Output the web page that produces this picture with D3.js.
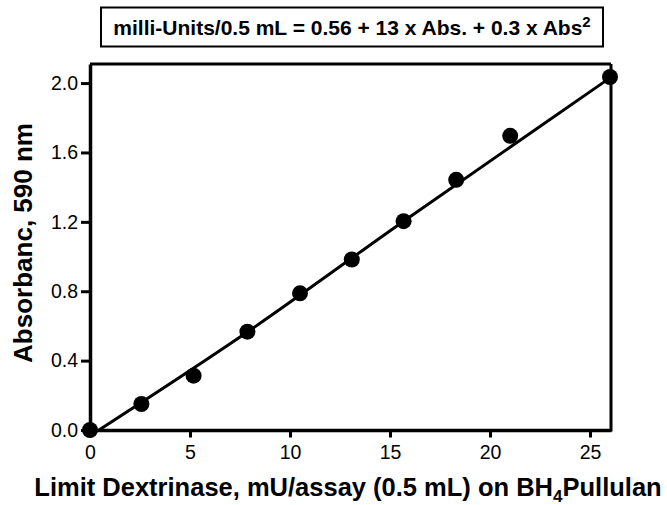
<!DOCTYPE html>
<html>
<head>
<meta charset="utf-8">
<script src="https://cdn.jsdelivr.net/npm/d3@7"></script>
<style>
    body { margin: 0; background: #fff; }
    #js_chart { width: 667px; height: 505px; }
    text { font-family: "Liberation Sans", Arial, sans-serif; fill: #000; }
</style>
</head>
<body>
<div id="js_chart"></div>
<script>

// ******************************************************
// Data
// ******************************************************
const xValues = [0, 2.57, 5.18, 7.87, 10.5, 13.09, 15.68, 18.31, 21.01, 26.0];
const yValues = [0, 0.15, 0.313, 0.567, 0.788, 0.983, 1.204, 1.442, 1.696, 2.035];

// fitted curve
const fitX = [0.45, 7.87, 15.68, 26.0];
const fitY = [0, 0.565, 1.204, 2.03];

const xTicks = [0, 5, 10, 15, 20, 25];
const yTicks = [0, 0.4, 0.8, 1.2, 1.6, 2.0];

const titleText = "milli-Units/0.5 mL = 0.56 + 13 x Abs. + 0.3 x Abs";
const titleSup = "2";
const yLabel = "Absorbanc, 590 nm";
const xLabelPre = "Limit Dextrinase, mU/assay (0.5 mL) on BH";
const xLabelSub = "4";
const xLabelPost = "Pullulan";

createPlot();

function createPlot() {

    // ******************************************************
    // Settings
    // ******************************************************
    let width = 667,
        height = 505;

    let x = d3.scaleLinear()
        .domain([0, 26.05])
        .range([90, 611]);

    let y = d3.scaleLinear()
        .domain([0, 2.11])
        .range([430, 64]);

    let svg = d3.select("#js_chart")
        .append("svg")
        .attr("width", width)
        .attr("height", height);

    // ******************************************************
    // Title box
    // ******************************************************
    svg.append("rect")
        .attr("x", 101)
        .attr("y", 7.5)
        .attr("width", 502)
        .attr("height", 39)
        .attr("fill", "none")
        .attr("stroke", "#000")
        .attr("stroke-width", 2);

    let title = svg.append("text")
        .attr("x", 352)
        .attr("y", 35)
        .attr("text-anchor", "middle")
        .attr("font-weight", "bold")
        .attr("font-size", 21);
    title.append("tspan").text(titleText);
    title.append("tspan")
        .attr("font-size", 15)
        .attr("dy", -8)
        .text(titleSup);

    // ******************************************************
    // Frame and axes
    // ******************************************************
    svg.append("line")
        .attr("x1", x(0)).attr("x2", x(26.05))
        .attr("y1", y(2.11)).attr("y2", y(2.11))
        .attr("stroke", "#000").attr("stroke-width", 3);

    svg.append("line")
        .attr("x1", x(26.05)).attr("x2", x(26.05))
        .attr("y1", y(2.11)).attr("y2", y(0) + 1.5)
        .attr("stroke", "#000").attr("stroke-width", 3);

    let gx = svg.append("g")
        .attr("transform", "translate(0," + y(0) + ")")
        .call(d3.axisBottom(x).tickValues(xTicks).tickSize(7.5).tickSizeOuter(0).tickPadding(7.5));

    let gy = svg.append("g")
        .attr("transform", "translate(" + x(0) + ",0)")
        .call(d3.axisLeft(y).tickValues(yTicks).tickSize(9).tickSizeOuter(0).tickPadding(3)
            .tickFormat(d3.format(".1f")));

    [gx, gy].forEach(function (g) {
        g.select(".domain").attr("stroke", "#000").attr("stroke-width", 3.5);
        g.selectAll(".tick line").attr("stroke", "#000").attr("stroke-width", 3);
        g.selectAll(".tick text")
            .attr("font-size", 19.5)
            .attr("font-family", "Liberation Sans, Arial, sans-serif")
            .attr("fill", "#000");
    });

    // ******************************************************
    // Axis labels
    // ******************************************************
    svg.append("text")
        .attr("transform", "translate(32,243) rotate(-90)")
        .attr("text-anchor", "middle")
        .attr("font-weight", "bold")
        .attr("font-size", 26)
        .text(yLabel);

    let xl = svg.append("text")
        .attr("x", 348)
        .attr("y", 496)
        .attr("text-anchor", "middle")
        .attr("font-weight", "bold")
        .attr("font-size", 25.5);
    xl.append("tspan").text(xLabelPre);
    xl.append("tspan").attr("font-size", 17).attr("dy", 6).text(xLabelSub);
    xl.append("tspan").attr("dy", -6).text(xLabelPost);

    // ******************************************************
    // Fit line and points
    // ******************************************************
    let fitData = fitX.map(function (d, i) { return {x: d, y: fitY[i]}; });
    let plotData = xValues.map(function (d, i) { return {x: d, y: yValues[i]}; });

    svg.append("path")
        .datum(fitData)
        .attr("fill", "none")
        .attr("stroke", "#000")
        .attr("stroke-width", 3)
        .attr("d", d3.line()
            .curve(d3.curveMonotoneX)
            .x(function (d) { return x(d.x); })
            .y(function (d) { return y(d.y); }));

    svg.append("g")
        .selectAll("circle")
        .data(plotData)
        .enter()
            .append("circle")
            .attr("cx", function (d) { return x(d.x); })
            .attr("cy", function (d) { return y(d.y); })
            .attr("r", 8)
            .attr("fill", "#000");
}
</script>
</body>
</html>
